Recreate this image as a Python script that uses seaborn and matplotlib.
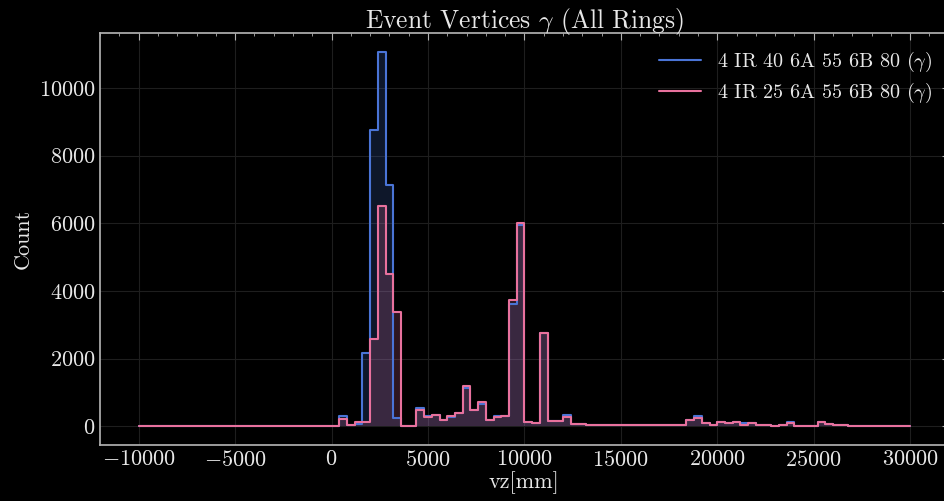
import numpy as np
import pandas as pd
import matplotlib
matplotlib.use("Agg")
import matplotlib.pyplot as plt
from matplotlib.lines import Line2D
from matplotlib.ticker import MultipleLocator
import seaborn as sns

# ---- data: histogram of vz [mm], 100 bins from -10000 to 30000 (width 400) ----
bin_edges_range = (-10000, 30000)
n_bins = 100

labels = [r"4 IR 40 6A 55 6B 80 ($\gamma$)", r"4 IR 25 6A 55 6B 80 ($\gamma$)"]

# counts for bins starting at left edge 400 mm (index 26) onwards
counts_ir40_tail = [
    315, 45, 70, 2165, 8750, 11070, 7140, 230, 5, 5,
    550, 300, 340, 170, 280, 375, 1120, 485, 650, 180,
    295, 300, 3610, 5950, 120, 80, 2760, 140, 160, 330,
    60, 60, 20, 40, 20, 40, 20, 40, 20, 20,
    20, 20, 20, 20, 20, 180, 300, 80, 20, 110,
    100, 110, 90, 100, 40, 40, 5, 30, 130, 10,
    5, 10, 120, 60, 40, 30, 5, 2, 2, 2,
    2, 2, 2, 2,
]
counts_ir25_tail = [
    220, 40, 120, 120, 2570, 6500, 4500, 3390, 5, 5,
    465, 280, 335, 170, 290, 375, 1200, 485, 710, 180,
    265, 300, 3730, 6020, 120, 80, 2745, 140, 140, 280,
    60, 60, 20, 20, 20, 20, 20, 20, 20, 20,
    20, 20, 20, 20, 20, 180, 250, 80, 20, 110,
    80, 130, 40, 90, 40, 40, 5, 30, 100, 10,
    5, 10, 120, 60, 40, 30, 5, 2, 2, 2,
    2, 2, 2, 2,
]

edges = np.linspace(bin_edges_range[0], bin_edges_range[1], n_bins + 1)
centers = 0.5 * (edges[:-1] + edges[1:])
lead = 26

def full(tail):
    arr = np.zeros(n_bins)
    arr[lead:lead + len(tail)] = tail
    return arr

series = [full(counts_ir40_tail), full(counts_ir25_tail)]
colors = ["#4a74d6", "#e8719d"]

# ---- style ----
sns.set_theme(style="dark")
plt.style.use("dark_background")
plt.rcParams.update({
    "font.family": ["cmr10", "DejaVu Serif"],
    "mathtext.fontset": "cm",
    "axes.formatter.use_mathtext": True,
    "axes.unicode_minus": True,
    "axes.facecolor": "black",
    "figure.facecolor": "black",
    "axes.edgecolor": "#b0b0b0",
    "text.color": "#e8e8e8",
    "axes.labelcolor": "#e8e8e8",
    "xtick.color": "#b0b0b0",
    "ytick.color": "#b0b0b0",
    "xtick.labelcolor": "#e8e8e8",
    "ytick.labelcolor": "#e8e8e8",
})

fig = plt.figure(figsize=(9.44, 5.01), dpi=100)
ax = fig.add_axes([0.106, 0.112, 0.899, 0.822])

for y, c in zip(series, colors):
    df = pd.DataFrame({"vz": centers, "w": y})
    sns.histplot(data=df, x="vz", weights="w", bins=n_bins,
                 binrange=bin_edges_range, element="step",
                 fill=True, color=c, alpha=0.2, linewidth=0, ax=ax)
    sns.histplot(data=df, x="vz", weights="w", bins=n_bins,
                 binrange=bin_edges_range, element="step",
                 fill=False, color=c, linewidth=1.5, ax=ax)

ax.set_xlim(-12000, 32000)
ax.set_ylim(-0.05 * 11070, 1.05 * 11070)

ax.set_title(r"Event Vertices $\gamma$ (All Rings)", fontsize=18.4, pad=4)
ax.set_xlabel("vz[mm]", fontsize=16, labelpad=1)
ax.set_ylabel("Count", fontsize=16)

ax.xaxis.set_major_locator(MultipleLocator(5000))
ax.xaxis.set_minor_locator(MultipleLocator(1000))
ax.yaxis.set_major_locator(MultipleLocator(2000))
ax.yaxis.set_minor_locator(MultipleLocator(500))
ax.tick_params(which="both", direction="in", top=True, right=True)
ax.tick_params(which="major", length=5, width=0.8, labelsize=16)
ax.tick_params(which="minor", length=2.5, width=0.6)

ax.grid(True, which="major", color="#1e1e1e", linewidth=0.8)
for s in ax.spines.values():
    s.set_color("#b0b0b0")

handles = [Line2D([0], [0], color=c, lw=1.5) for c in colors]
ax.legend(handles, labels, loc="upper right", frameon=False, fontsize=14.5,
          handlelength=2.1, handletextpad=0.8, labelspacing=0.38,
          borderaxespad=0.42)

fig.savefig("out.png", dpi=100, facecolor="black")
